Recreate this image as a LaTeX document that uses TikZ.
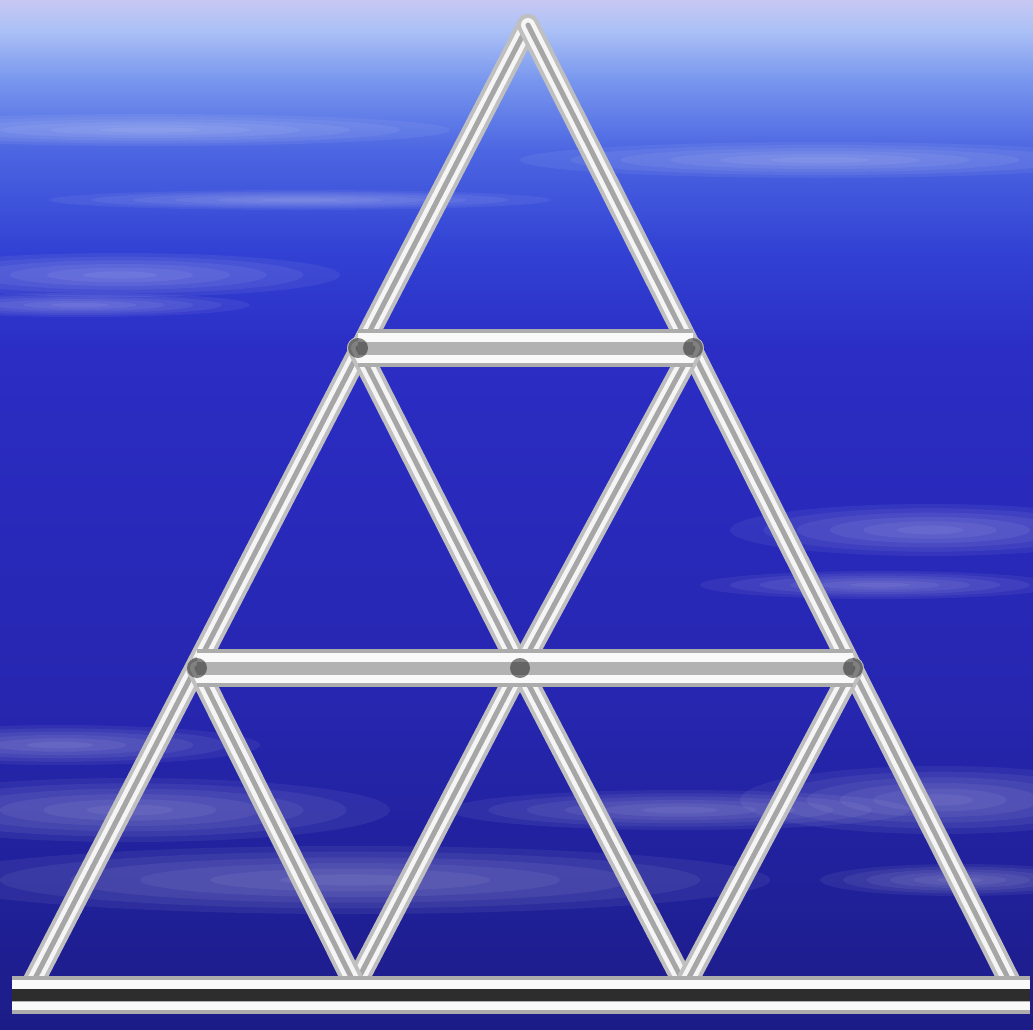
\documentclass[tikz,border=0pt]{standalone}
\definecolor{skytop}{HTML}{C8C8F2}
\definecolor{skyhaze}{HTML}{AAC0F6}
\definecolor{skylight}{HTML}{7896EE}
\definecolor{skymid}{HTML}{4C66E2}
\definecolor{skyblue}{HTML}{3242D4}
\definecolor{skydeep}{HTML}{2B2DC4}
\definecolor{skylow}{HTML}{2626B0}
\definecolor{skybottom}{HTML}{1C1C88}
\pgfdeclareverticalshading{sky}{100bp}{color(0bp)=(skybottom);
  color(25bp)=(skybottom); color(41bp)=(skylow); color(58bp)=(skydeep);
  color(62.9bp)=(skyblue); color(67.7bp)=(skymid); color(71.1bp)=(skylight);
  color(73.5bp)=(skyhaze); color(75bp)=(skytop); color(100bp)=(skytop)}
% soft white streak: centre x, centre y, half length, half height
\newcommand\skywisp[4]{%
  \foreach \k in {1,...,6}
    \fill[white, opacity=0.06] (#1, #2) ellipse ({#3*\k/6} and {#4*\k/6});}
\begin{document}
\begin{tikzpicture}[x=0.01cm, y=-0.01cm,
    rod/.style={line width=0.22cm, draw=gray!50, line cap=round,
      postaction={draw=white!92!gray, line width=0.14cm},
      postaction={draw=gray!70, line width=0.05cm}},
    bar/.style={line width=0.38cm, draw=gray!65,
      postaction={draw=white!95!gray, line width=0.30cm},
      postaction={draw=gray!60, line width=0.13cm}}]
  \useasboundingbox (0, 0) rectangle (1033, 1030); %
  \shade[shading=sky] (0, 0) rectangle (1033, 1030); %
  % streaks in the sky
  \skywisp{120}{275}{220}{22} %
  \skywisp{80}{305}{170}{12} %
  \skywisp{150}{130}{300}{16} %
  \skywisp{820}{160}{300}{18} %
  \skywisp{300}{200}{250}{10} %
  \skywisp{930}{530}{200}{26} %
  \skywisp{880}{585}{180}{14} %
  \skywisp{60}{745}{200}{20} %
  \skywisp{130}{810}{260}{32} %
  \skywisp{350}{880}{420}{34} %
  \skywisp{680}{810}{230}{20} %
  \skywisp{940}{800}{200}{34} %
  \skywisp{960}{880}{140}{16} %
  % joints
  \coordinate (apex) at (528, 25); %
  \coordinate (upL) at (358, 348); %
  \coordinate (upR) at (693, 348); %
  \coordinate (midL) at (197, 668); %
  \coordinate (midC) at (520, 668); %
  \coordinate (midR) at (853, 668); %
  \coordinate (botL) at (28, 992); %
  \coordinate (botA) at (355, 985); %
  \coordinate (botB) at (685, 985); %
  \coordinate (botR) at (1015, 992); %
  % slanted rods
  \draw[rod] (apex) -- (botL); %
  \draw[rod] (apex) -- (botR); %
  \draw[rod] (upL) -- (midC) -- (botB); %
  \draw[rod] (upR) -- (midC) -- (botA); %
  \draw[rod] (midL) -- (botA); %
  \draw[rod] (midR) -- (botB); %
  % level bars
  \draw[bar] (upL) -- (upR); %
  \draw[bar] (midL) -- (midR); %
  \draw[bar, postaction={draw=gray!35!black, line width=0.12cm}]
    (12, 995) -- (1030, 995); %
  \foreach \j in {upL, upR, midL, midC, midR}
    \fill[gray!40!black, opacity=0.6] (\j) circle (10); %
\end{tikzpicture}
\end{document}
